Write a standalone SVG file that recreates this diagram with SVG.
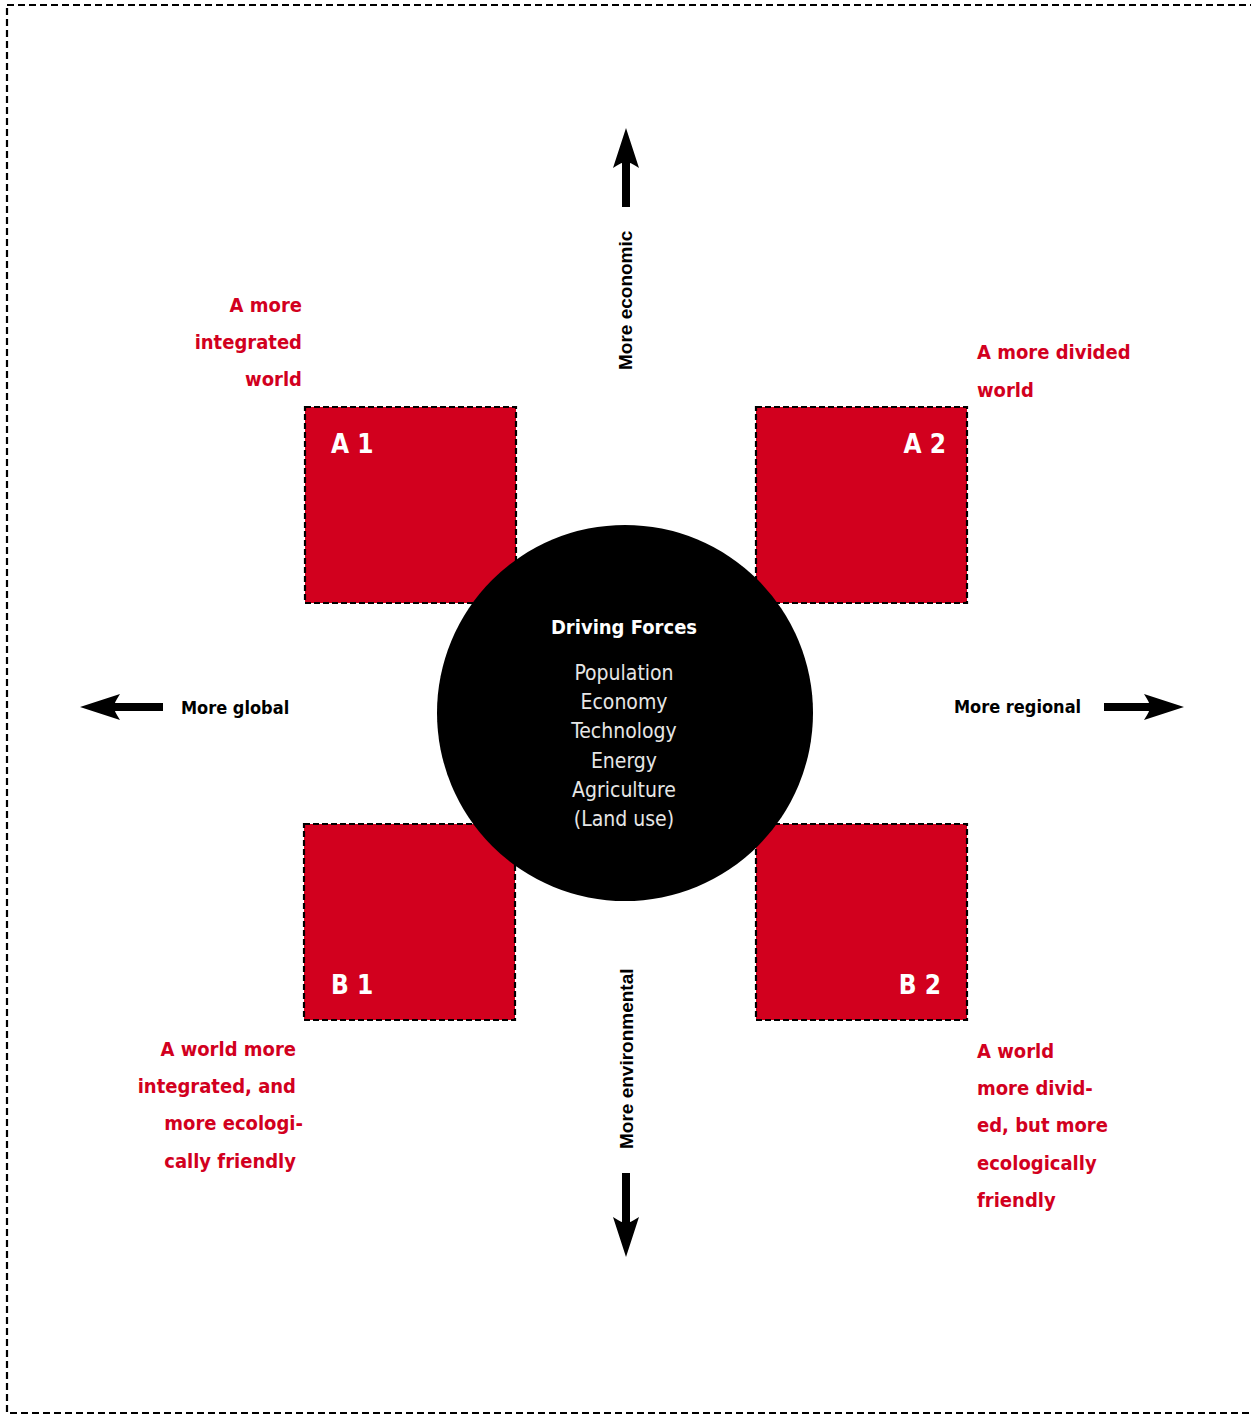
<svg xmlns="http://www.w3.org/2000/svg" width="1251" height="1415" viewBox="0 0 1251 1415">
<style>
.frame{fill:none;stroke:#000;stroke-width:2.2;stroke-dasharray:7 4}
.box{fill:#d2001e;stroke:#000;stroke-width:2.2;stroke-dasharray:6 3}
.boxlab{font-family:"DejaVu Sans Condensed","DejaVu Sans",sans-serif;font-weight:bold;font-size:26px;fill:#fff}
.red{font-family:"DejaVu Sans Condensed","DejaVu Sans",sans-serif;font-weight:bold;font-size:20px;fill:#d2001e}
.axis{font-family:"DejaVu Sans Condensed","DejaVu Sans",sans-serif;font-weight:bold;font-size:18px;fill:#000}
.vaxis{font-family:"Liberation Sans",Arial,sans-serif;font-weight:bold;font-size:19px;fill:#000}
.title{font-family:"DejaVu Sans Condensed","DejaVu Sans",sans-serif;font-weight:bold;font-size:20px;fill:#fff;text-anchor:middle}
.item{font-family:"DejaVu Sans Condensed","DejaVu Sans",sans-serif;font-weight:300;font-size:21px;fill:#e6e6e6;text-anchor:middle}
.arrow{fill:#000}
</style>
<rect class="frame" x="7" y="5" width="1270" height="1408"/>
<g id="A1">
<rect class="box" x="305" y="407" width="211" height="196"/>
<text class="boxlab" x="331" y="453">A 1</text>
</g>
<g id="A2">
<rect class="box" x="756" y="407" width="211" height="196"/>
<text class="boxlab" x="946" y="453" text-anchor="end">A 2</text>
</g>
<g id="B1">
<rect class="box" x="304" y="824" width="211" height="196"/>
<text class="boxlab" x="331" y="994">B 1</text>
</g>
<g id="B2">
<rect class="box" x="756" y="824" width="211" height="196"/>
<text class="boxlab" x="941" y="994" text-anchor="end">B 2</text>
</g>
<g id="driving-forces">
<circle cx="625" cy="713" r="188" fill="#000"/>
<text class="title" x="624" y="634">Driving Forces</text>
<text class="item" x="624" y="680">Population</text>
<text class="item" x="624" y="709">Economy</text>
<text class="item" x="624" y="738">Technology</text>
<text class="item" x="624" y="768">Energy</text>
<text class="item" x="624" y="797">Agriculture</text>
<text class="item" x="624" y="826">(Land use)</text>
</g>
<g id="label-A1">
<text class="red" x="302" y="312" text-anchor="end">A more</text>
<text class="red" x="302" y="349" text-anchor="end">integrated</text>
<text class="red" x="302" y="386" text-anchor="end">world</text>
</g>
<g id="label-A2">
<text class="red" x="977" y="359">A more divided</text>
<text class="red" x="977" y="397">world</text>
</g>
<g id="label-B1">
<text class="red" x="296" y="1056" text-anchor="end">A world more</text>
<text class="red" x="296" y="1093" text-anchor="end">integrated, and</text>
<text class="red" x="303" y="1130" text-anchor="end">more ecologi-</text>
<text class="red" x="296" y="1168" text-anchor="end">cally friendly</text>
</g>
<g id="label-B2">
<text class="red" x="977" y="1058">A world</text>
<text class="red" x="977" y="1095">more divid-</text>
<text class="red" x="977" y="1132">ed, but more</text>
<text class="red" x="977" y="1170">ecologically</text>
<text class="red" x="977" y="1207">friendly</text>
</g>
<g id="connectors">
<path class="arrow" d="M626,128 L639,168 Q631,163 630,163 L630,207 L622,207 L622,163 Q621,163 613,168 Z"/>
<path class="arrow" d="M626,1257 L639,1217 Q631,1222 630,1222 L630,1173 L622,1173 L622,1222 Q621,1222 613,1217 Z"/>
<path class="arrow" d="M80,707 L120,694 Q115,702 115,703 L163,703 L163,711 L115,711 Q115,712 120,720 Z"/>
<path class="arrow" d="M1184,707 L1144,694 Q1149,702 1149,703 L1104,703 L1104,711 L1149,711 Q1149,712 1144,720 Z"/>
<text class="vaxis" transform="translate(632,370) rotate(-90)">More economic</text>
<text class="vaxis" transform="translate(633,1149) rotate(-90)">More environmental</text>
<text class="axis" x="181" y="714">More global</text>
<text class="axis" x="954" y="713">More regional</text>
</g>
</svg>
